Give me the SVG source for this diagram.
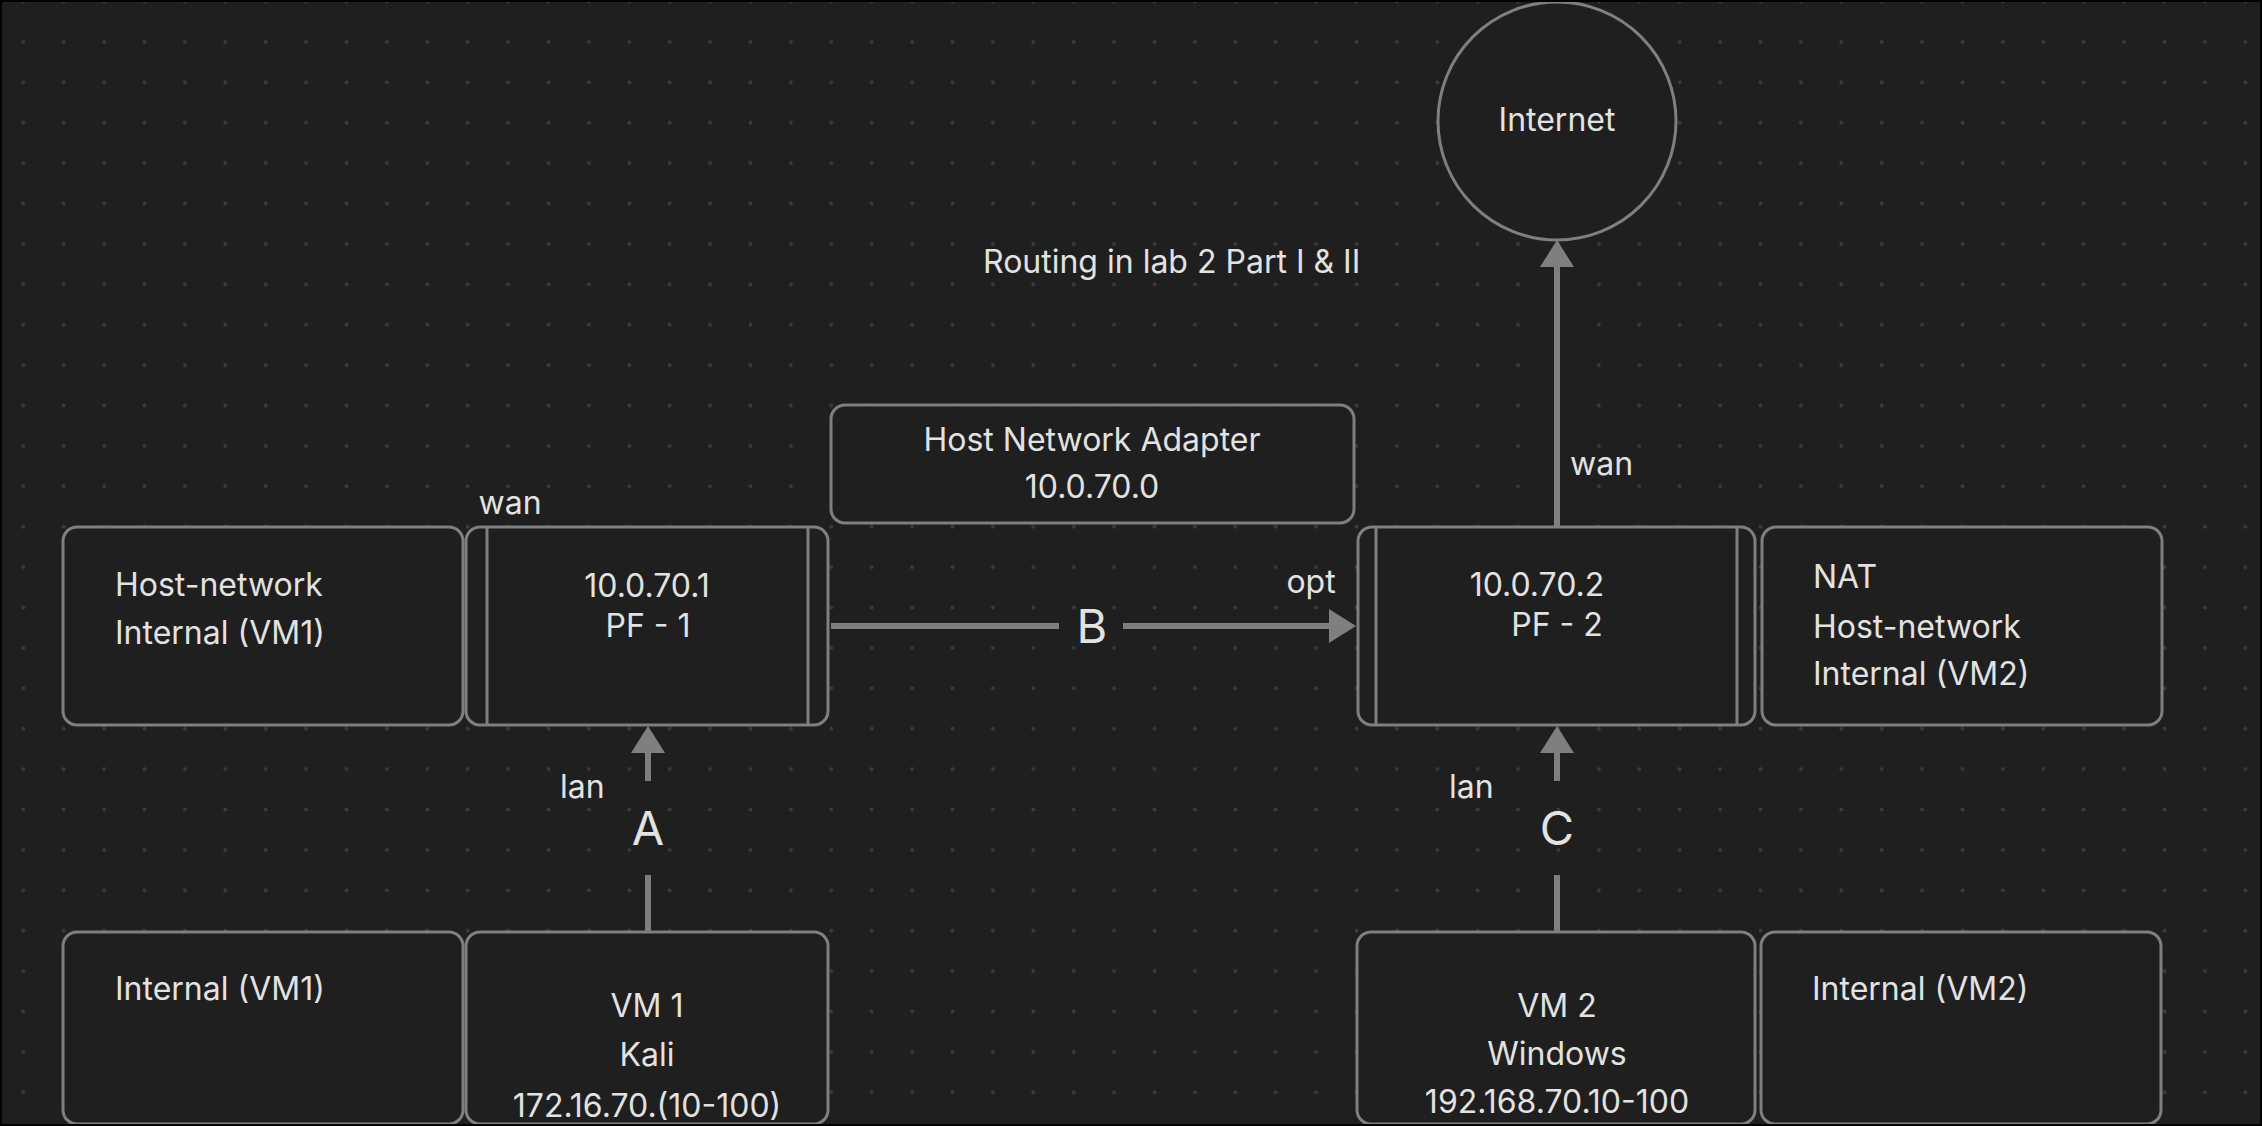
<svg xmlns="http://www.w3.org/2000/svg" width="2262" height="1126" viewBox="0 0 2262 1126">
<defs>
<pattern id="dots" patternUnits="userSpaceOnUse" x="3.1" y="-18.7" width="40.4" height="40.4">
<circle cx="20.2" cy="20.2" r="1.9" fill="#3b3b3b"/>
</pattern>
<marker id="head" markerUnits="userSpaceOnUse" markerWidth="28" markerHeight="36" refX="0" refY="17" orient="auto" overflow="visible">
<path d="M0,0 L27,17 L0,34 Z" fill="#7f7f7f"/>
</marker>
<style>
.box{fill:#1f1f1f;stroke:#7f7f7f;stroke-width:3}
.div{stroke:#7f7f7f;stroke-width:3}
.t{font-family:Inter,"Noto Sans","Liberation Sans",sans-serif;font-size:32px;fill:#e2e2e2}
.m{text-anchor:middle}
.big{font-size:47px}
.c{stroke:#7f7f7f;stroke-width:6;fill:none}
</style>
</defs>
<rect width="2262" height="1126" fill="#1f1f1f"/>
<rect width="2262" height="1126" fill="url(#dots)"/>

<text class="t" x="983" y="273">Routing in lab 2 Part I &amp; II</text>

<g id="connectors">
<line class="c" x1="1557" y1="527" x2="1557" y2="267" marker-end="url(#head)"/>
<line class="c" x1="831" y1="626" x2="1059" y2="626"/>
<line class="c" x1="1123" y1="626" x2="1329" y2="626" marker-end="url(#head)"/>
<line class="c" x1="648" y1="931" x2="648" y2="875"/>
<line class="c" x1="648" y1="781" x2="648" y2="753" marker-end="url(#head)"/>
<line class="c" x1="1557" y1="931" x2="1557" y2="875"/>
<line class="c" x1="1557" y1="781" x2="1557" y2="753" marker-end="url(#head)"/>
<text class="t big m" x="1092" y="643">B</text>
<text class="t big m" x="648" y="845">A</text>
<text class="t big m" x="1557" y="845">C</text>
<text class="t" x="1570" y="475">wan</text>
<text class="t m" x="510" y="514">wan</text>
<text class="t m" x="1311" y="593">opt</text>
<text class="t" x="560" y="798">lan</text>
<text class="t" x="1449" y="798">lan</text>
</g>

<g id="internet">
<circle cx="1557" cy="121" r="119" class="box"/>
<text class="t m" x="1557" y="131">Internet</text>
</g>

<g id="host-adapter">
<rect class="box" x="831" y="405" width="523" height="118" rx="14"/>
<text class="t m" x="1092" y="451">Host Network Adapter</text>
<text class="t m" x="1092" y="498">10.0.70.0</text>
</g>

<g id="hostnet-vm1">
<rect class="box" x="63" y="527" width="400" height="198" rx="14"/>
<text class="t" x="115" y="596">Host-network</text>
<text class="t" x="115" y="644">Internal (VM1)</text>
</g>

<g id="pf1">
<rect class="box" x="466" y="527" width="362" height="198" rx="14"/>
<line class="div" x1="487" y1="527" x2="487" y2="725"/>
<line class="div" x1="808" y1="527" x2="808" y2="725"/>
<text class="t m" x="647" y="597">10.0.70.1</text>
<text class="t m" x="648" y="637">PF - 1</text>
</g>

<g id="pf2">
<rect class="box" x="1358" y="527" width="397" height="198" rx="14"/>
<line class="div" x1="1376" y1="527" x2="1376" y2="725"/>
<line class="div" x1="1737" y1="527" x2="1737" y2="725"/>
<text class="t m" x="1537" y="596">10.0.70.2</text>
<text class="t m" x="1557" y="636">PF - 2</text>
</g>

<g id="nat">
<rect class="box" x="1762" y="527" width="400" height="198" rx="14"/>
<text class="t" x="1813" y="588">NAT</text>
<text class="t" x="1813" y="638">Host-network</text>
<text class="t" x="1813" y="685">Internal (VM2)</text>
</g>

<g id="internal-vm1">
<rect class="box" x="63" y="932" width="400" height="192" rx="14"/>
<text class="t" x="115" y="1000">Internal (VM1)</text>
</g>

<g id="vm1">
<rect class="box" x="466" y="932" width="362" height="192" rx="14"/>
<text class="t m" x="647" y="1017">VM 1</text>
<text class="t m" x="647" y="1066">Kali</text>
<text class="t m" x="647" y="1117">172.16.70.(10-100)</text>
</g>

<g id="vm2">
<rect class="box" x="1357" y="932" width="398" height="192" rx="14"/>
<text class="t m" x="1557" y="1017">VM 2</text>
<text class="t m" x="1557" y="1065">Windows</text>
<text class="t m" x="1557" y="1113">192.168.70.10-100</text>
</g>

<g id="internal-vm2">
<rect class="box" x="1761" y="932" width="400" height="192" rx="14"/>
<text class="t" x="1812" y="1000">Internal (VM2)</text>
</g>

<rect x="0" y="0" width="2262" height="1126" fill="none" stroke="#000" stroke-width="4"/>
</svg>
